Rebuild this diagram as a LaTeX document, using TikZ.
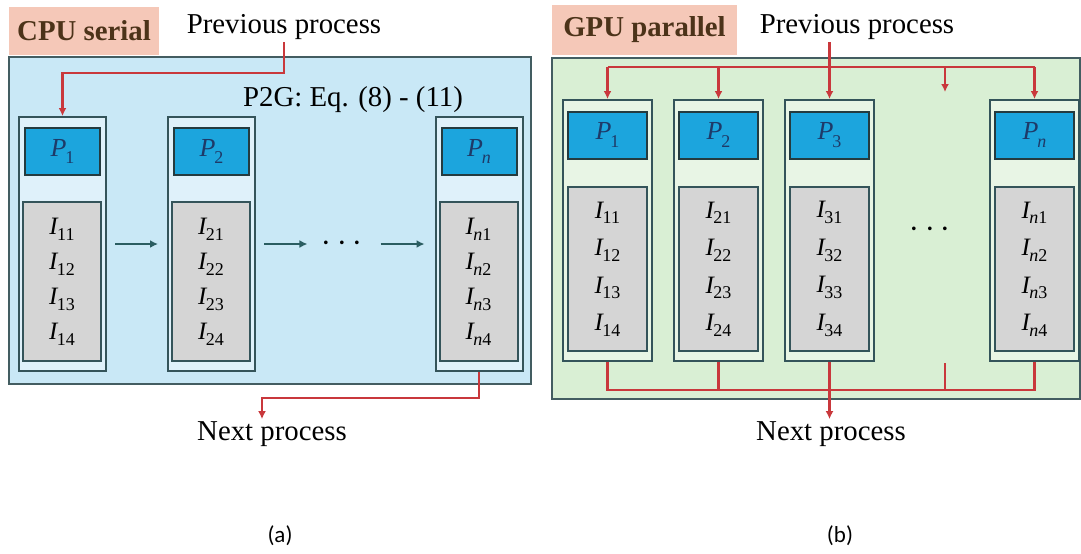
\documentclass[tikz,border=0pt]{standalone}
\usepackage{fontspec}
\setmainfont{Liberation Serif}
\newfontfamily\capfont{Carlito}
\usetikzlibrary{arrows.meta}
\definecolor{salmon}{HTML}{F5C8B8}
\definecolor{skyA}{HTML}{C9E8F6}
\definecolor{mintB}{HTML}{D9EFD4}
\definecolor{pblue}{HTML}{1CA5DD}
\definecolor{igray}{HTML}{D5D5D5}
\definecolor{edge}{HTML}{34545A}
\definecolor{wirered}{HTML}{C9383C}
\definecolor{navy}{HTML}{1E3A68}
\newcommand{\ix}[1]{\textit{I}\kern-.06em\raisebox{-.5ex}{\fontsize{9}{9}\selectfont #1}}
\newcommand{\px}[1]{\textit{P}\kern-.04em\raisebox{-.6ex}{\fontsize{9}{9}\selectfont #1}}

\begin{document}
\begin{tikzpicture}[x=0.5pt,y=-0.5pt,
  txt/.style={font=\rmfamily\fontsize{14.4}{17}\selectfont,inner sep=1pt},
  lbl/.style={font=\rmfamily\bfseries\fontsize{14.4}{17}\selectfont,fill=salmon,
    text=brown!40!black,inner sep=0pt},
  panel/.style={draw=edge!80!gray,line width=1.1pt,inner sep=0pt},
  col/.style={draw=edge,line width=1pt,minimum width=43.5pt,inner sep=0pt},
  pbox/.style={draw=edge!70!black,line width=1pt,fill=pblue,text=navy,
    minimum width=37.5pt,minimum height=23.5pt,inner sep=0pt,
    font=\fontsize{13}{15}\selectfont},
  ibox/.style={draw=edge,line width=1pt,fill=igray,minimum width=39pt,
    inner sep=0pt,align=center},
  wire/.style={draw=wirered,line width=1.1pt},
  conn/.style={wire,-{Latex[length=4pt,width=4pt]}},
  flow/.style={draw=edge!80!teal,line width=1pt,-{Latex[length=4pt,width=4pt]}}]
\useasboundingbox (0,0) rectangle (1081,553);

% (a) CPU serial
\node[panel,fill=skyA,minimum width=261pt,minimum height=163.5pt] (panelA) at (270,220.5) {};
\node[lbl,minimum width=75pt,minimum height=24pt] (lblA) at (84,31) {CPU serial};
\node[txt] (prevA) at (284,27) {Previous process};
\node[txt] (eqA) at (353,100) {P2G: Eq. (8) - (11)};

\node[col,fill=skyA!60!white,minimum height=127pt] (colA1) at (62.5,244) {};
\node[col,fill=skyA!60!white,minimum height=127pt] (colA2) at (211.5,244) {};
\node[col,fill=skyA!60!white,minimum height=127pt] (colAn) at (479,244) {};
\node[pbox] (pA1) at (62.5,151.5) {\px{1}};
\node[pbox] (pA2) at (211.5,151.5) {\px{2}};
\node[pbox] (pAn) at (479,151.5) {\px{\textit{n}}};
\node[ibox,minimum height=79.5pt,font=\fontsize{12.5}{17.5}\selectfont] (iA1) at (62,281.5)
  {\ix{11}\\\ix{12}\\\ix{13}\\\ix{14}};
\node[ibox,minimum height=79.5pt,font=\fontsize{12.5}{17.5}\selectfont] (iA2) at (211,281.5)
  {\ix{21}\\\ix{22}\\\ix{23}\\\ix{24}};
\node[ibox,minimum height=79.5pt,font=\fontsize{12.5}{17.5}\selectfont] (iAn) at (478.5,281.5)
  {\ix{\textit{n}1}\\\ix{\textit{n}2}\\\ix{\textit{n}3}\\\ix{\textit{n}4}};
\node[txt,font=\fontsize{16}{16}\selectfont,minimum width=22pt] (dotsA) at (342,244) {$\cdots$};

\draw[flow,shorten <=4pt,shorten >=4.5pt] (colA1) -- (colA2);
\draw[flow,shorten <=4pt,shorten >=6pt] (colA2.east |- dotsA) -- (dotsA);
\draw[flow,shorten <=8pt,shorten >=5pt] (dotsA) -- (colAn.west |- dotsA);

\coordinate (busA) at (0,73);
\coordinate (dropA) at (262,398);
\draw[conn] (prevA.south) |- (colA1.north |- busA) -- (colA1.north);
\node[txt] (nextA) at (272,434) {Next process};
\draw[conn] (colAn.south) |- (dropA) -- (dropA |- nextA.north);

% (b) GPU parallel
\node[panel,fill=mintB,minimum width=264pt,minimum height=170.5pt] (panelB) at (816,228.5) {};
\node[lbl,minimum width=92.5pt,minimum height=25pt] (lblB) at (644.5,30) {GPU parallel};
\node[txt] (prevB) at (857,27) {Previous process};

\node[col,fill=mintB!60!white,minimum width=44.5pt,minimum height=130.5pt] (colB1) at (607.5,230.5) {};
\node[col,fill=mintB!60!white,minimum width=44.5pt,minimum height=130.5pt] (colB2) at (718.5,230.5) {};
\node[col,fill=mintB!60!white,minimum width=44.5pt,minimum height=130.5pt] (colB3) at (829.5,230.5) {};
\node[col,fill=mintB!60!white,minimum width=44.5pt,minimum height=130.5pt] (colBn) at (1034.5,230.5) {};
\node[pbox,minimum width=39.5pt] (pB1) at (607.5,135) {\px{1}};
\node[pbox,minimum width=39.5pt] (pB2) at (718.5,135) {\px{2}};
\node[pbox,minimum width=39.5pt] (pB3) at (829.5,135) {\px{3}};
\node[pbox,minimum width=39.5pt] (pBn) at (1034.5,135) {\px{\textit{n}}};
\node[ibox,minimum width=39.5pt,minimum height=82pt,font=\fontsize{12.5}{18.75}\selectfont] (iB1) at (607.5,269)
  {\ix{11}\\\ix{12}\\\ix{13}\\\ix{14}};
\node[ibox,minimum width=39.5pt,minimum height=82pt,font=\fontsize{12.5}{18.75}\selectfont] (iB2) at (718.5,269)
  {\ix{21}\\\ix{22}\\\ix{23}\\\ix{24}};
\node[ibox,minimum width=39.5pt,minimum height=82pt,font=\fontsize{12.5}{18.75}\selectfont] (iB3) at (829.5,269)
  {\ix{31}\\\ix{32}\\\ix{33}\\\ix{34}};
\node[ibox,minimum width=39.5pt,minimum height=82pt,font=\fontsize{12.5}{18.75}\selectfont] (iBn) at (1034.5,269)
  {\ix{\textit{n}1}\\\ix{\textit{n}2}\\\ix{\textit{n}3}\\\ix{\textit{n}4}};
\node[txt,font=\fontsize{16}{16}\selectfont] (dotsB) at (930,230) {$\cdots$};

\coordinate (busB) at (0,67);
\coordinate (sinkB) at (0,390);
\coordinate (gapB) at (945,92);
\coordinate (gapC) at (945,363);
\draw[wire] (colB1.north |- busB) -- (colBn.north |- busB);
\draw[conn] (colB3.north |- prevB.south) -- (colB3.north);
\draw[conn] (colB1.north |- busB) -- (colB1.north);
\draw[conn] (colB2.north |- busB) -- (colB2.north);
\draw[conn] (gapB |- busB) -- (gapB);
\draw[conn] (colBn.north |- busB) -- (colBn.north);

\draw[wire] (colB1.south) |- (colBn.south |- sinkB) -- (colBn.south);
\draw[wire] (colB2.south) -- (colB2.south |- sinkB);
\draw[wire] (gapC) -- (gapC |- sinkB);
\node[txt] (nextB) at (831,434) {Next process};
\draw[conn] (colB3.south) -- (colB3.south |- nextB.north);

% captions
\node[font=\capfont\fontsize{11.5}{13}\selectfont] (capA) at (280,536) {(a)};
\node[font=\capfont\fontsize{11.5}{13}\selectfont] (capB) at (840,536) {(b)};
\end{tikzpicture}
\end{document}
